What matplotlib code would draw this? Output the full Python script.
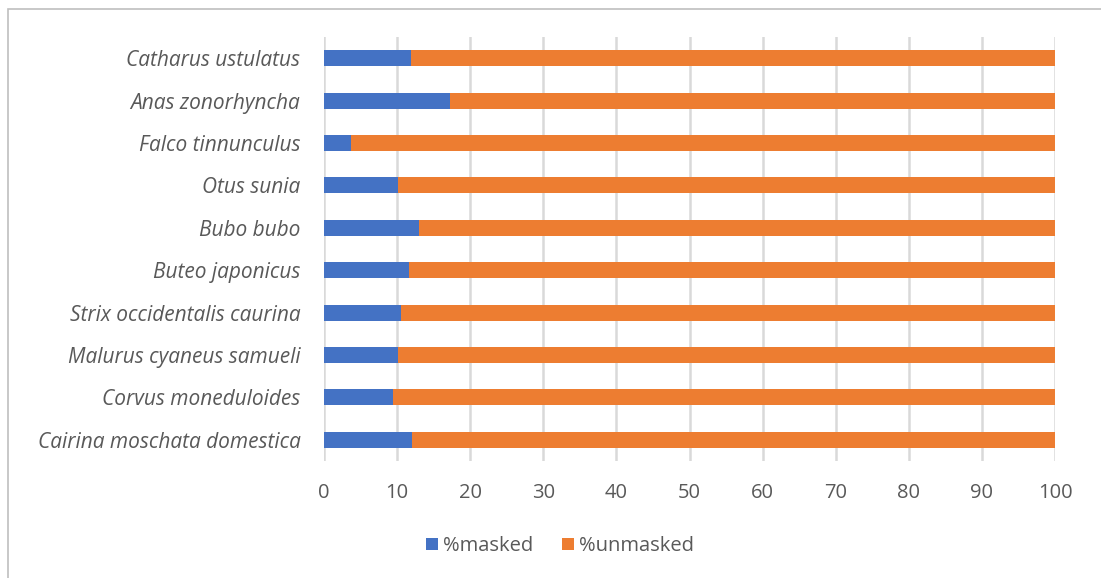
import matplotlib
matplotlib.use('Agg')
import matplotlib.pyplot as plt
from matplotlib.patches import Rectangle

species = ['Cairina moschata domestica', 'Corvus moneduloides', 'Malurus cyaneus samueli',
           'Strix occidentalis caurina', 'Buteo japonicus', 'Bubo bubo', 'Otus sunia',
           'Falco tinnunculus', 'Anas zonorhyncha', 'Catharus ustulatus']
masked = [12.1, 9.5, 10.1, 10.6, 11.6, 13.0, 10.1, 3.7, 17.2, 11.9]
unmasked = [100 - m for m in masked]
xticks = [0, 10, 20, 30, 40, 50, 60, 70, 80, 90, 100]

BLUE = '#4472C4'
ORANGE = '#ED7D31'
TEXT = '#595959'

plt.rcParams['font.family'] = ['Open Sans', 'DejaVu Sans']

fig = plt.figure(figsize=(11.01, 5.78), dpi=100)
ax = fig.add_axes([324 / 1101, 1 - 461 / 578, (1055 - 324) / 1101, (461 - 37) / 578])

ypos = range(len(species))
ax.barh(ypos, masked, height=0.38, color=BLUE, label='%masked', zorder=3)
ax.barh(ypos, unmasked, left=masked, height=0.38, color=ORANGE, label='%unmasked', zorder=3)

ax.set_xlim(0, 100)
ax.set_ylim(-0.5, len(species) - 0.5)
ax.set_xticks(xticks)
ax.set_xticklabels([str(t) for t in xticks], fontsize=14.5, color=TEXT)
ax.set_yticks(list(ypos))
ax.set_yticklabels(species, fontsize=15, color=TEXT, style='italic')
ax.tick_params(length=0)
ax.tick_params(axis='x', pad=16)
ax.tick_params(axis='y', pad=17)
ax.grid(axis='x', color='#D9D9D9', linewidth=1.8, zorder=0)
for s in ax.spines.values():
    s.set_visible(False)

leg = fig.legend(loc='center', bbox_to_anchor=(560 / 1101, 1 - 546 / 578), ncol=2,
                 frameon=False, fontsize=14.5, handlelength=0.6, handleheight=0.6,
                 handletextpad=0.25, columnspacing=1.4)
for t in leg.get_texts():
    t.set_color(TEXT)

fig.patches.append(Rectangle((8 / 1101, -0.1), 1.1, 1 - 9 / 578 + 0.1, transform=fig.transFigure,
                             fill=False, edgecolor='#BFBFBF', linewidth=1.2))

fig.savefig('out.png', dpi=100)
